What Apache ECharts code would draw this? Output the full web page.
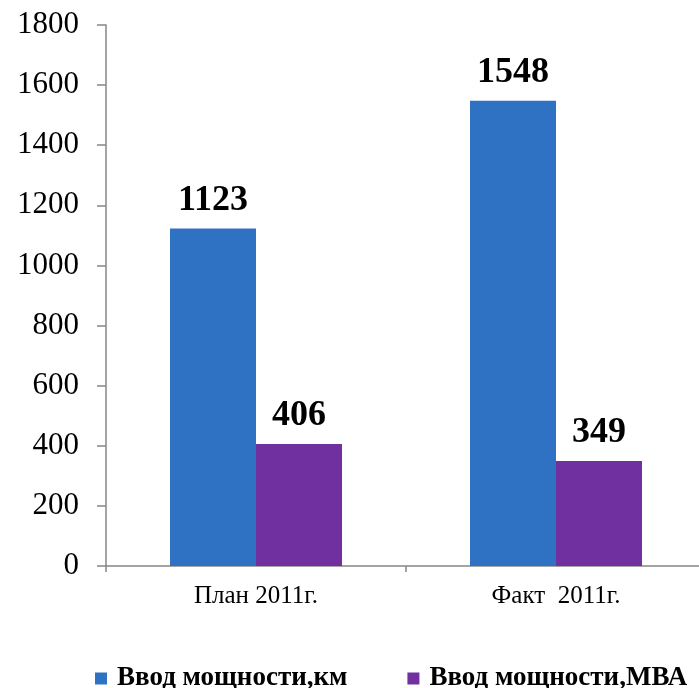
<!DOCTYPE html>
<html><head><meta charset="utf-8">
<script src="https://cdn.jsdelivr.net/npm/echarts@6/dist/echarts.min.js"></script>
<style>html,body{margin:0;padding:0;background:#fff}#c{width:699px;height:688px}</style>
</head><body><div id="c"></div>
<script>
const categories = ['План 2011г.', 'Факт  2011г.'];
const seriesNames = ['Ввод мощности,км', 'Ввод мощности,МВА'];
const valuesKm = [1123, 1548];
const valuesMva = [406, 349];
const yTicks = [0, 200, 400, 600, 800, 1000, 1200, 1400, 1600, 1800];

const font = 'Liberation Serif, Times New Roman, serif';
const chart = echarts.init(document.getElementById('c'));
const labelStyle = {show: true, position: 'top', distance: 10, fontFamily: font, fontWeight: 'bold', fontSize: 36, color: '#000'};
chart.setOption({
  animation: false,
  grid: {left: 106, width: 600, top: 25, bottom: 122, containLabel: false, outerBoundsMode: 'none'},
  legend: {
    top: 660, left: 90, itemWidth: 12, itemHeight: 12, itemGap: 60,
    icon: 'rect',
    textStyle: {fontFamily: font, fontWeight: 'bold', fontSize: 27, color: '#000', padding: [0,0,0,5]},
    data: seriesNames
  },
  xAxis: {
    type: 'category', data: categories,
    axisLine: {lineStyle: {color: '#868686', width: 1.5}},
    axisTick: {show: true, length: 6, lineStyle: {color: '#868686', width: 1.5}},
    axisLabel: {fontFamily: font, fontSize: 25, color: '#000', margin: 18}
  },
  yAxis: {
    type: 'value', min: yTicks[0], max: yTicks[yTicks.length-1], interval: 200,
    axisLine: {show: true, lineStyle: {color: '#868686', width: 1.5}},
    axisTick: {show: true, length: 9, lineStyle: {color: '#868686', width: 1.5}},
    splitLine: {show: false},
    axisLabel: {fontFamily: font, fontSize: 31, color: '#000', margin: 27, formatter: v => String(v)}
  },
  series: [
    {name: seriesNames[0], type: 'bar', data: valuesKm, barWidth: 86, barGap: '0%', itemStyle: {color: '#2F72C4'}, label: labelStyle},
    {name: seriesNames[1], type: 'bar', data: valuesMva, barWidth: 86, barGap: '0%', itemStyle: {color: '#7030A0'}, label: labelStyle}
  ]
});
</script></body></html>
